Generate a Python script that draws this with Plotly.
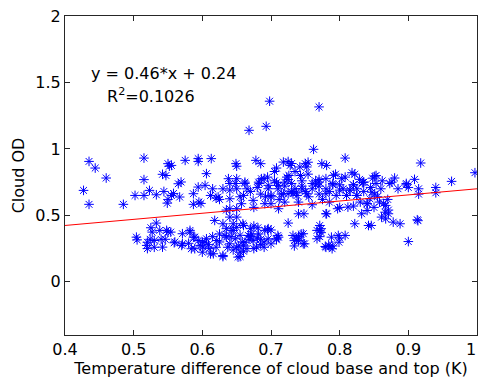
import plotly.graph_objects as go

# Upper band (cloud OD roughly above the fit line)
upper_x = [
    0.427, 0.435, 0.444, 0.435, 0.460, 0.485, 0.502, 0.515, 0.515, 0.515,
    0.523, 0.533, 0.542, 0.544, 0.549, 0.550, 0.550, 0.552, 0.555, 0.547,
    0.555, 0.558, 0.565, 0.569, 0.567, 0.575, 0.587, 0.587, 0.594, 0.594,
    0.594, 0.595, 0.598, 0.604, 0.606, 0.612, 0.613, 0.620, 0.623, 0.625,
    0.635, 0.638, 0.640, 0.640, 0.649, 0.650, 0.650, 0.650, 0.648, 0.650,
    0.657, 0.660, 0.662, 0.662, 0.668, 0.674, 0.678, 0.680, 0.682, 0.683,
    0.685, 0.685, 0.686, 0.690, 0.691, 0.693, 0.695, 0.698, 0.670, 0.655,
    0.630, 0.640, 0.675, 0.696, 0.665, 0.640, 0.615, 0.692, 0.705, 0.708,
    0.708, 0.711, 0.718, 0.723, 0.725, 0.725, 0.726, 0.728, 0.730, 0.742,
    0.743, 0.745, 0.748, 0.750, 0.752, 0.754, 0.754, 0.762, 0.770, 0.770,
    0.774, 0.780, 0.781, 0.781, 0.791, 0.794, 0.797, 0.710, 0.715, 0.720,
    0.730, 0.735, 0.738, 0.745, 0.750, 0.755, 0.760, 0.765, 0.770, 0.775,
    0.780, 0.785, 0.790, 0.795, 0.700, 0.720, 0.740, 0.760, 0.785, 0.705,
    0.730, 0.765, 0.735, 0.712, 0.803, 0.808, 0.808, 0.812, 0.818, 0.822,
    0.829, 0.833, 0.832, 0.840, 0.844, 0.847, 0.848, 0.851, 0.851, 0.853,
    0.853, 0.864, 0.866, 0.867, 0.871, 0.871, 0.861, 0.867, 0.873, 0.876,
    0.880, 0.888, 0.878, 0.897, 0.897, 0.900, 0.909, 0.913, 0.915, 0.915,
    0.918, 0.940, 0.940, 0.963, 0.997, 0.810, 0.815, 0.820, 0.825, 0.830,
    0.835, 0.840, 0.800, 0.820, 0.805, 0.845, 0.855, 0.860, 0.835, 0.825,
    0.800, 0.870, 0.858, 0.850, 0.862, 0.885, 0.696, 0.711, 0.720, 0.718,
    0.725, 0.732, 0.737, 0.700, 0.700, 0.745, 0.752, 0.760, 0.770, 0.770,
    0.780, 0.790, 0.800, 0.810, 0.815, 0.820, 0.825, 0.835, 0.840, 0.659,
    0.740, 0.780, 0.914,
]
upper_y = [
    0.688, 0.906, 0.856, 0.583, 0.781, 0.583, 0.650, 0.931, 0.769, 0.650,
    0.688, 0.655, 0.809, 0.680, 0.592, 0.620, 0.889, 0.870, 0.876, 0.800,
    0.650, 0.665, 0.738, 0.751, 0.638, 0.914, 0.663, 0.583, 0.927, 0.906,
    0.713, 0.600, 0.590, 0.726, 0.814, 0.650, 0.927, 0.630, 0.638, 0.620,
    0.540, 0.776, 0.625, 0.550, 0.889, 0.870, 0.776, 0.700, 0.740, 0.550,
    0.588, 0.650, 0.740, 0.750, 1.140, 0.613, 0.914, 0.710, 0.750, 0.740,
    0.889, 0.660, 0.776, 0.776, 0.588, 1.170, 0.788, 1.359, 0.680, 0.640,
    0.700, 0.690, 0.560, 0.700, 0.700, 0.740, 0.700, 0.640, 0.830, 0.856,
    0.746, 0.550, 0.901, 0.788, 0.905, 0.770, 0.800, 0.876, 0.890, 0.864,
    0.800, 0.760, 0.512, 0.889, 0.864, 0.900, 0.810, 0.997, 1.316, 0.770,
    0.889, 0.776, 0.876, 0.512, 0.801, 0.810, 0.550, 0.700, 0.660, 0.720,
    0.680, 0.700, 0.650, 0.720, 0.680, 0.640, 0.700, 0.730, 0.660, 0.620,
    0.700, 0.680, 0.740, 0.650, 0.640, 0.600, 0.600, 0.580, 0.600, 0.760,
    0.740, 0.760, 0.830, 0.620, 0.776, 0.788, 0.931, 0.562, 0.821, 0.810,
    0.771, 0.746, 0.512, 0.537, 0.625, 0.674, 0.780, 0.794, 0.660, 0.800,
    0.740, 0.588, 0.524, 0.575, 0.512, 0.540, 0.487, 0.474, 0.740, 0.750,
    0.781, 0.437, 0.449, 0.730, 0.740, 0.710, 0.771, 0.467, 0.700, 0.660,
    0.894, 0.710, 0.670, 0.756, 0.821, 0.650, 0.690, 0.730, 0.650, 0.600,
    0.750, 0.588, 0.560, 0.570, 0.700, 0.710, 0.640, 0.700, 0.680, 0.700,
    0.690, 0.620, 0.600, 0.560, 0.760, 0.700, 0.726, 0.726, 0.750, 0.663,
    0.663, 0.663, 0.670, 0.650, 0.588, 0.700, 0.663, 0.740, 0.750, 0.720,
    0.663, 0.730, 0.730, 0.650, 0.690, 0.730, 0.650, 0.750, 0.588, 0.437,
    0.512, 0.512, 0.460,
]

# Lower band (thin clouds)
lower_x = [
    0.504, 0.505, 0.520, 0.519, 0.525, 0.533, 0.527, 0.524, 0.538, 0.540,
    0.546, 0.548, 0.542, 0.530, 0.520, 0.530, 0.554, 0.559, 0.550, 0.560,
    0.571, 0.571, 0.570, 0.582, 0.582, 0.587, 0.589, 0.580, 0.584, 0.589,
    0.594, 0.597, 0.600, 0.601, 0.604, 0.606, 0.609, 0.610, 0.612, 0.616,
    0.618, 0.620, 0.621, 0.625, 0.630, 0.630, 0.630, 0.633, 0.635, 0.635,
    0.637, 0.640, 0.640, 0.643, 0.645, 0.645, 0.648, 0.650, 0.650, 0.650,
    0.652, 0.655, 0.660, 0.662, 0.667, 0.672, 0.674, 0.679, 0.680, 0.691,
    0.690, 0.690, 0.695, 0.696, 0.700, 0.655, 0.658, 0.665, 0.670, 0.675,
    0.685, 0.660, 0.645, 0.668, 0.642, 0.625, 0.615, 0.600, 0.653, 0.682,
    0.700, 0.708, 0.711, 0.725, 0.732, 0.734, 0.734, 0.737, 0.740, 0.740,
    0.747, 0.749, 0.767, 0.771, 0.773, 0.767, 0.788, 0.800, 0.799, 0.808,
    0.790, 0.779, 0.780, 0.789, 0.822, 0.842, 0.846, 0.900, 0.786, 0.784,
    0.681, 0.696, 0.710, 0.708, 0.744, 0.747, 0.771, 0.773, 0.798, 0.655,
    0.660, 0.670, 0.675, 0.685, 0.740, 0.771,
]
lower_y = [
    0.336, 0.316, 0.298, 0.274, 0.407, 0.442, 0.374, 0.320, 0.387, 0.320,
    0.320, 0.387, 0.261, 0.260, 0.250, 0.311, 0.374, 0.294, 0.374, 0.300,
    0.362, 0.286, 0.274, 0.374, 0.387, 0.336, 0.336, 0.290, 0.249, 0.249,
    0.311, 0.274, 0.223, 0.261, 0.298, 0.324, 0.280, 0.250, 0.210, 0.211,
    0.462, 0.260, 0.311, 0.360, 0.437, 0.198, 0.190, 0.349, 0.336, 0.400,
    0.260, 0.487, 0.286, 0.387, 0.437, 0.387, 0.324, 0.487, 0.410, 0.260,
    0.186, 0.190, 0.424, 0.298, 0.349, 0.360, 0.310, 0.261, 0.330, 0.387,
    0.300, 0.260, 0.392, 0.324, 0.286, 0.350, 0.300, 0.250, 0.400, 0.420,
    0.280, 0.230, 0.240, 0.320, 0.340, 0.300, 0.340, 0.300, 0.270, 0.360,
    0.390, 0.324, 0.336, 0.442, 0.349, 0.310, 0.270, 0.324, 0.310, 0.340,
    0.362, 0.286, 0.387, 0.424, 0.400, 0.324, 0.336, 0.330, 0.298, 0.349,
    0.270, 0.266, 0.260, 0.249, 0.437, 0.424, 0.424, 0.303, 0.265, 0.275,
    0.407, 0.400, 0.349, 0.316, 0.360, 0.286, 0.340, 0.370, 0.349, 0.223,
    0.270, 0.340, 0.250, 0.320, 0.330, 0.387,
]

temp_diff = upper_x + lower_x
cloud_od = upper_y + lower_y

fit_slope = 0.46
fit_intercept = 0.24
fit_x = [0.4, 1.0]
fit_y = [fit_slope * v + fit_intercept for v in fit_x]

x_ticks = [0.4, 0.5, 0.6, 0.7, 0.8, 0.9, 1.0]
x_ticktext = ["0.4", "0.5", "0.6", "0.7", "0.8", "0.9", "1"]
y_ticks = [0, 0.5, 1, 1.5, 2]
y_ticktext = ["0", "0.5", "1", "1.5", "2"]
x_title = "Temperature difference of cloud base and top (K)"
y_title = "Cloud OD"

FONT = "DejaVu Sans, Arial, sans-serif"
FS = 16

fig = go.Figure()
fig.add_trace(go.Scatter(
    x=temp_diff, y=cloud_od, mode="markers",
    marker=dict(symbol="asterisk-open", size=8, color="#0000ff",
                line=dict(color="#0000ff", width=1)),
    showlegend=False, hoverinfo="skip",
))
fig.add_trace(go.Scatter(
    x=fit_x, y=fit_y, mode="lines",
    line=dict(color="#ff0000", width=1),
    showlegend=False, hoverinfo="skip",
))

axis_common = dict(
    showline=True, linecolor="#262626", linewidth=1, mirror="ticks",
    ticks="inside", ticklen=5, tickcolor="#262626", showgrid=False,
    zeroline=False, tickfont=dict(family=FONT, size=FS, color="black"),
)
# The last x tick (1) coincides with the right frame; its label is an annotation
fig.update_xaxes(range=[0.4, 1.0], tickvals=x_ticks[:-1],
                 ticktext=x_ticktext[:-1],
                 title=dict(text=x_title,
                            font=dict(family=FONT, size=FS, color="black"),
                            standoff=2),
                 **axis_common)
fig.update_yaxes(range=[-0.4, 2.0], tickvals=y_ticks, ticktext=y_ticktext,
                 title=dict(text=y_title,
                            font=dict(family=FONT, size=FS, color="black"),
                            standoff=6),
                 **axis_common)

fig.add_annotation(x=x_ticks[-1], y=0, xref="x", yref="paper",
                   xanchor="right", yanchor="top", yshift=-3, xshift=1,
                   showarrow=False, text=x_ticktext[-1],
                   font=dict(family=FONT, size=FS, color="black"))

fig.add_annotation(x=0.435, y=1.57, xref="x", yref="y", xanchor="left",
                   yanchor="middle", showarrow=False,
                   text="y = 0.46*x + 0.24",
                   font=dict(family=FONT, size=FS, color="black"))
fig.add_annotation(x=0.458, y=1.40, xref="x", yref="y", xanchor="left",
                   yanchor="middle", showarrow=False,
                   text="R<sup>2</sup>=0.1026",
                   font=dict(family=FONT, size=FS, color="black"))

fig.update_layout(
    width=478, height=379,
    margin=dict(l=65, r=1, t=16, b=44),
    plot_bgcolor="white", paper_bgcolor="white",
)

fig.write_html("out.html")
